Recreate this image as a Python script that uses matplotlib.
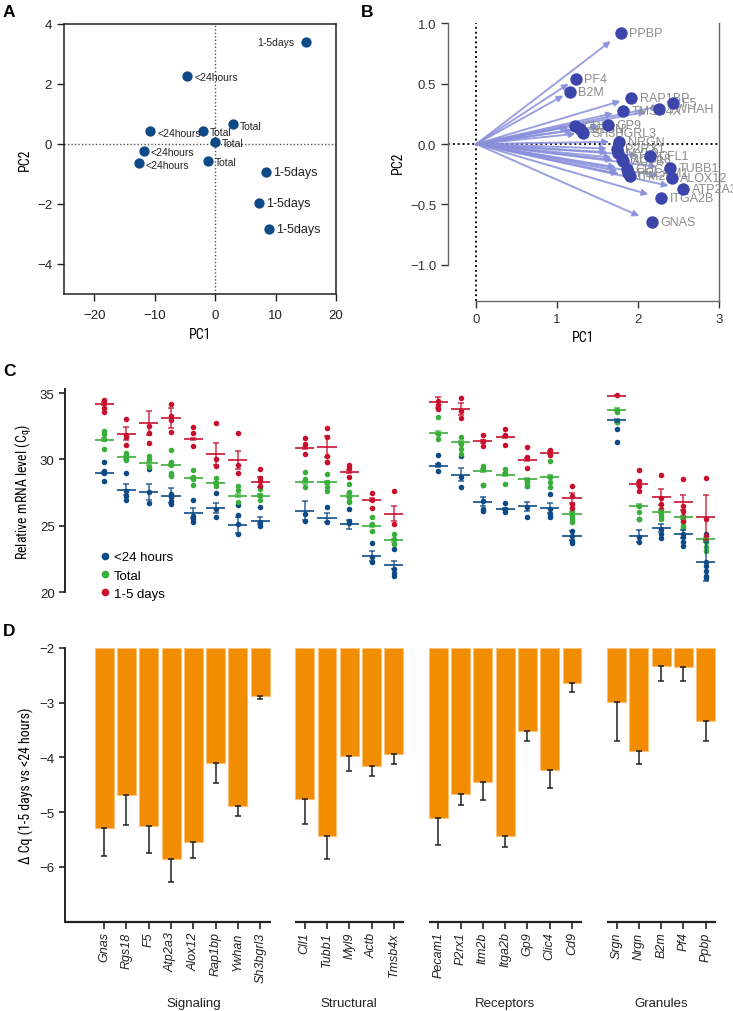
import matplotlib
matplotlib.use("Agg")
import matplotlib.pyplot as plt
import numpy as np
from matplotlib.lines import Line2D
import matplotlib.transforms as mtransforms
from matplotlib import font_manager

plt.rcParams['font.family'] = ['Liberation Sans', 'DejaVu Sans']

# pick a condensed face if one is installed, otherwise the plain one
_names = {f.name for f in font_manager.fontManager.ttflist}
NARROW = [n for n in ['Liberation Sans Narrow', 'Roboto Condensed', 'Open Sans Condensed',
                      'DejaVu Sans Condensed', 'Noto Sans Condensed'] if n in _names]
NARROW_STRETCH = 'normal'
if not NARROW:
    if any(f.name == 'DejaVu Sans' and 'Condensed' in f.fname for f in font_manager.fontManager.ttflist):
        NARROW = ['DejaVu Sans']
        NARROW_STRETCH = 'condensed'
    else:
        NARROW = ['Liberation Sans', 'DejaVu Sans']

# ---------------- panel A: PCA of samples ----------------
pca_x = [15.0, -4.6, 2.9, -10.7, -2.0, 0.0, -11.8, -12.6, -1.2, 8.5, 7.2, 8.9]
pca_y = [3.4, 2.28, 0.66, 0.42, 0.43, 0.07, -0.23, -0.64, -0.57, -0.94, -1.98, -2.84]
pca_lab = ["1-5days", "<24hours", "Total", "<24hours", "Total", "Total",
           "<24hours", "<24hours", "Total", "1-5days", "1-5days", "1-5days"]

# ---------------- panel B: loadings ----------------
bip_genes = ["PPBP", "PF4", "B2M", "RAP1BP", "F5", "YWHAH", "TMSB4X", "CD9", "SRGN",
             "SH3BGRL3", "GP9", "NRGN", "P2RX1", "MYL9", "RGS18", "CFL1", "ACTB",
             "CLIC4", "PECAM1", "ITM2B", "TUBB1", "ALOX12", "ATP2A3", "ITGA2B", "GNAS"]
bip_x = [1.79, 1.23, 1.16, 1.92, 2.44, 2.26, 1.82, 1.22, 1.28, 1.32, 1.63, 1.77, 1.74,
         1.75, 1.80, 2.15, 1.82, 1.86, 1.88, 1.90, 2.40, 2.42, 2.56, 2.29, 2.17]
bip_y = [0.917, 0.537, 0.432, 0.383, 0.336, 0.287, 0.273, 0.151, 0.125, 0.091, 0.157,
         0.019, -0.04, -0.074, -0.12, -0.10, -0.143, -0.207, -0.24, -0.267, -0.201,
         -0.284, -0.372, -0.449, -0.642]

# ---------------- panels C/D: genes ----------------
genes = ["Gnas", "Rgs18", "F5", "Atp2a3", "Alox12", "Rap1bp", "Ywhan", "Sh3bgrl3",
         "Cll1", "Tubb1", "Myl9", "Actb", "Tmsb4x",
         "Pecam1", "P2rx1", "Itm2b", "Itga2b", "Gp9", "Clic4", "Cd9",
         "Srgn", "Nrgn", "B2m", "Pf4", "Ppbp"]
groups = ["Signaling", "Structural", "Receptors", "Granules"]
group_sizes = [8, 5, 7, 5]

# Cq replicates per gene
cq_early = [[29.83, 29.16, 28.98, 28.4], [28.98, 27.65, 27.27, 26.97], [29.28, 27.53, 26.72],
            [28.83, 27.43, 27.15, 26.9, 26.67], [26.97, 25.77, 25.52, 25.27], [27.48, 26.27, 25.69],
            [26.57, 25.85, 25.14, 24.42], [26.4, 25.32, 25.02], [25.9, 25.39], [26.4, 25.32],
            [26.27, 25.39, 25.19], [23.71, 22.69, 22.26], [23.26, 21.76, 21.43, 21.26],
            [30.33, 29.66, 29.16], [30.28, 28.65, 27.9], [28.08, 26.9, 26.27, 26.15],
            [26.72, 26.27, 26.02], [27.98, 26.4, 25.64], [27.4, 26.27, 25.9, 25.64],
            [24.64, 24.21, 23.88, 23.71], [32.79, 32.29, 31.29], [25.52, 24.14, 23.76],
            [24.77, 24.39, 24.06], [24.39, 24.14, 23.76, 23.46],
            [24.39, 22.26, 22.01, 21.63, 21.26, 21.05]]
cq_total = [[32.17, 31.91, 31.54, 30.79], [30.49, 30.33, 30.16, 29.96], [30.28, 30.03, 29.41],
            [30.74, 29.78, 29.58, 28.98, 28.78], [29.23, 28.65, 28.53, 28.1], [28.58, 28.2, 28.03],
            [27.98, 27.7, 26.82], [27.78, 27.35, 26.97], [29.03, 28.53, 27.9],
            [28.9, 28.28, 27.9, 27.65], [28.15, 27.53, 27.15, 26.9, 26.77], [25.69, 25.14, 24.64],
            [24.39, 24.01, 23.64], [33.17, 31.91, 31.54], [31.71, 31.16, 30.79, 30.41],
            [29.53, 29.28, 28.08], [29.28, 28.98, 28.15], [28.4, 28.28, 28.03],
            [29.91, 28.65, 28.28, 27.9], [26.15, 25.77, 25.52, 25.27], [33.75, 33.55, 32.79],
            [26.52, 26.02, 25.52], [25.9, 25.77, 25.52], [25.52, 25.27, 25.02, 24.82],
            [24.01, 23.76, 23.39, 23.14]]
cq_late = [[34.5, 34.25, 33.87, 33.55], [33.04, 31.84, 31.71, 31.09], [32.54, 31.99, 31.24],
           [34.15, 33.29, 32.94, 32.04], [32.42, 31.99, 31.04], [32.72, 30.03, 29.48],
           [31.97, 29.58, 28.96], [29.28, 28.6, 28.4, 28.03], [31.64, 31.14, 30.44],
           [32.39, 31.69, 30.28, 29.83, 29.78], [29.58, 29.33, 28.65], [27.48, 26.97, 26.35],
           [27.65, 25.14], [34.42, 34.1, 33.8], [34.6, 33.67, 33.1], [31.84, 31.41, 31.04],
           [32.29, 31.84, 31.09], [30.96, 30.16, 29.33], [30.74, 30.33],
           [27.98, 27.22, 26.65, 26.32], [34.87], [29.23, 28.4, 28.03, 27.65],
           [28.86, 27.07, 26.65, 26.27], [28.53, 26.52, 26.15, 25.77, 25.39], [28.6, 25.52, 24.21]]

mean_early = [28.98, 27.73, 27.53, 27.27, 25.97, 26.35, 25.07, 25.39, 26.15, 25.62, 25.12, 22.76,
              22.06, 29.53, 28.86, 26.82, 26.27, 26.47, 26.35, 24.27, 32.94, 24.27, 24.82, 24.42, 22.31]
sem_early = [0.1, 0.43, 0.6, 0.55, 0.35, 0.38, 0.58, 0.25, 0.7, 0.33, 0.35, 0.38,
             0.33, 0.1, 0.48, 0.33, 0.1, 0.35, 0.35, 0.33, 0.1, 0.45, 0.3, 0.3, 1.45]
mean_total = [31.49, 30.16, 29.71, 29.58, 28.6, 28.23, 27.27, 27.27, 28.28, 28.28, 27.27, 25.02,
              23.91, 32.02, 31.29, 29.16, 28.86, 28.53, 28.7, 25.92, 33.75, 26.52, 26.07, 25.64, 24.01]
sem_total = [0.1] * 25
mean_late = [34.2, 31.94, 32.74, 33.14, 31.54, 30.41, 29.93, 28.28, 30.86, 30.96, 29.08, 26.97,
             25.92, 34.3, 33.8, 31.36, 31.69, 29.98, 30.51, 27.1, 34.8, 28.18, 27.17, 26.77, 25.64]
sem_late = [0.1, 0.48, 0.9, 0.75, 0.1, 0.8, 0.68, 0.38, 0.1, 0.78, 0.1, 0.1,
            0.58, 0.42, 0.45, 0.1, 0.1, 0.1, 0.1, 0.4, 0.05, 0.1, 0.6, 0.58, 1.68]

# delta Cq (1-5 days vs <24 hours)
dcq = [-5.29, -4.69, -5.25, -5.85, -5.54, -4.10, -4.89, -2.88, -4.76, -5.44, -3.98, -4.15,
       -3.94, -5.10, -4.67, -4.44, -5.44, -3.52, -4.22, -2.64, -2.99, -3.89, -2.32, -2.35, -3.33]
dcq_err = [0.51, 0.55, 0.50, 0.42, 0.29, 0.37, 0.17, 0.06, 0.45, 0.41, 0.27, 0.19,
           0.17, 0.49, 0.20, 0.34, 0.19, 0.18, 0.34, 0.17, 0.71, 0.22, 0.28, 0.25, 0.37]

C_BLUE = "#0d4a87"
C_GREEN = "#3aae3a"
C_RED = "#c8102e"
ORANGE = "#f28c00"

pos = []
start = 0
for n in group_sizes:
    pos.extend(range(start, start + n))
    start += n + 1
pos = np.array(pos, dtype=float)
XLIM = (-1.76, 27.45)

fig = plt.figure(figsize=(7.33, 10.12), dpi=100)
lab_kw = dict(family=NARROW, stretch=NARROW_STRETCH, fontsize=10)

# ---------- A ----------
axA = fig.add_axes([0.0873, 0.7085, 0.3711, 0.2668])
axA.axhline(0, color="#555555", ls=(0, (1, 1.5)), lw=1, zorder=1)
axA.axvline(0, color="#555555", ls=(0, (1, 1.5)), lw=1, zorder=1)
axA.scatter(pca_x, pca_y, s=55, color=C_BLUE, zorder=3, linewidths=0)
for x, y, lab in zip(pca_x, pca_y, pca_lab):
    if y > 3:
        axA.annotate(lab, (x, y), xytext=(-8, 0), textcoords="offset points",
                     ha="right", va="center", fontsize=7.5, color="#222222")
    elif lab == "1-5days":
        axA.annotate(lab, (x, y), xytext=(5, 0), textcoords="offset points",
                     ha="left", va="center", fontsize=9, color="#222222")
    else:
        axA.annotate(lab, (x, y), xytext=(5, -1), textcoords="offset points",
                     ha="left", va="center", fontsize=7.5, color="#222222")
axA.set_xlim(-25, 20)
axA.set_ylim(-5, 4)
axA.set_xticks([-20, -10, 0, 10, 20])
axA.set_yticks([-4, -2, 0, 2, 4])
axA.set_xlabel("PC1", **lab_kw)
axA.set_ylabel("PC2", **lab_kw)
for s in axA.spines.values():
    s.set_linewidth(1.1)
    s.set_color("#222222")
axA.tick_params(labelsize=9.5, length=5, width=1, colors="#222222")
axA.tick_params(axis="x", pad=6)

# ---------- B ----------
axB = fig.add_axes([0.6112, 0.7016, 0.3693, 0.2744])
axB.axhline(0, color="#111111", ls=(0, (1, 1.5)), lw=1.4, zorder=1)
axB.axvline(0, color="#111111", ls=(0, (1, 1.5)), lw=1.4, zorder=1)
for x, y in zip(bip_x, bip_y):
    axB.annotate("", xy=(0.93 * x, 0.93 * y), xytext=(0, 0),
                 arrowprops=dict(arrowstyle="-|>", color="#8a8fdc", lw=1.4, alpha=0.85,
                                 mutation_scale=9, shrinkA=0, shrinkB=0), zorder=2)
for x, y, g in zip(bip_x, bip_y, bip_genes):
    axB.annotate(g, (x, y), xytext=(6, 0), textcoords="offset points", ha="left",
                 va="center", fontsize=9, color="#8c8c8c", zorder=3, annotation_clip=False)
axB.scatter(bip_x, bip_y, s=80, color="#3c45aa", zorder=4, linewidths=0)
axB.set_xlim(-0.35, 3.0)
axB.set_ylim(-1.3, 1.0)
axB.set_xticks([0, 1, 2, 3])
axB.set_yticks([-1.0, -0.5, 0.0, 0.5, 1.0])
axB.set_yticklabels(["\u22121.0", "\u22120.5", "0.0", "0.5", "1.0"])
axB.spines["top"].set_visible(False)
axB.spines["left"].set_bounds(-1.0, 1.0)
axB.spines["bottom"].set_bounds(0, 3)
for s in ["left", "bottom", "right"]:
    axB.spines[s].set_color("#666666")
    axB.spines[s].set_linewidth(1)
axB.set_xlabel("PC1", **lab_kw)
axB.set_ylabel("PC2", **lab_kw)
axB.tick_params(labelsize=9.5, length=5, width=1, colors="#333333")

# ---------- C ----------
axC = fig.add_axes([0.0887, 0.4137, 0.8877, 0.2009])
series = [(cq_early, mean_early, sem_early, C_BLUE, "<24 hours"),
          (cq_total, mean_total, sem_total, C_GREEN, "Total"),
          (cq_late, mean_late, sem_late, C_RED, "1-5 days")]
for pts, mu, se, col, lab in series:
    for p, vals in zip(pos, pts):
        axC.scatter([p] * len(vals), vals, s=16, color=col, linewidths=0, zorder=3)
    axC.hlines(mu, pos - 0.43, pos + 0.43, color=col, lw=1.4, alpha=0.85, zorder=4)
    axC.errorbar(pos, mu, yerr=se, fmt="none", ecolor=col, elinewidth=1.1, capsize=2.5,
                 capthick=1.1, alpha=0.85, zorder=4)
handles = [Line2D([], [], marker="o", ls="", color=c, markersize=4.5) for c in (C_BLUE, C_GREEN, C_RED)]
axC.legend(handles, ["<24 hours", "Total", "1-5 days"], loc="lower left",
           bbox_to_anchor=(0.033, -0.095), frameon=False, fontsize=9.5,
           handletextpad=0.2, labelspacing=0.45, handlelength=1.0)
axC.set_xlim(*XLIM)
axC.set_ylim(20, 35.3)
axC.set_yticks([20, 25, 30, 35])
axC.set_xticks([])
for s in ["top", "right", "bottom"]:
    axC.spines[s].set_visible(False)
axC.spines["left"].set_linewidth(1.4)
axC.spines["left"].set_color("#222222")
axC.tick_params(labelsize=9.5, length=4, width=1.2, colors="#222222")
axC.set_ylabel("Relative mRNA level (C$_\\mathregular{q}$)", **lab_kw)

# ---------- D ----------
axD = fig.add_axes([0.0887, 0.0882, 0.8877, 0.2705])
dcq_arr = np.array(dcq)
axD.bar(pos, dcq_arr + 2, bottom=-2, width=0.85, color=ORANGE, edgecolor="#f8c27a",
        linewidth=0.8, zorder=2)
axD.errorbar(pos, dcq_arr, yerr=[dcq_err, [0] * len(dcq_err)], fmt="none", ecolor="#222222",
             elinewidth=1.1, capsize=2, capthick=1.1, zorder=3)
axD.set_xlim(*XLIM)
axD.set_ylim(-7, -2)
axD.set_yticks([-6, -5, -4, -3, -2])
axD.set_yticklabels(["\u22126", "\u22125", "\u22124", "\u22123", "\u22122"])
axD.set_xticks(pos)
axD.set_xticklabels(genes, rotation=90, style="italic", fontsize=9)
for s in ["top", "right", "bottom"]:
    axD.spines[s].set_visible(False)
axD.spines["left"].set_linewidth(1.4)
axD.spines["left"].set_color("#222222")
axD.tick_params(axis="y", labelsize=9.5, length=4, width=1.2, colors="#222222")
axD.tick_params(axis="x", length=5, width=1.2, colors="#222222", pad=2)
axD.set_ylabel("\u0394 Cq (1-5 days vs <24 hours)", **lab_kw)

trans = mtransforms.blended_transform_factory(axD.transData, axD.transAxes)
i0 = 0
for gi, (gname, n) in enumerate(zip(groups, group_sizes)):
    gp = pos[i0:i0 + n]
    left = XLIM[0] if gi == 0 else gp[0] - 0.42
    axD.plot([left, gp[-1] + 0.47], [0, 0], transform=trans, color="#222222", lw=1.6,
             clip_on=False, solid_capstyle="butt")
    center = gp.mean() + (0.5 if gi == 0 else 0)
    axD.text(center, -0.298, gname, transform=trans, ha="center", va="center", fontsize=9.5,
             color="#222222")
    i0 += n

# panel letters
for lab, x, y in [("A", 0.004, 0.995), ("B", 0.492, 0.995), ("C", 0.004, 0.64), ("D", 0.004, 0.383)]:
    fig.text(x, y, lab, fontsize=12.5, fontweight="bold", va="top", ha="left")

fig.savefig("out.png", dpi=100)
